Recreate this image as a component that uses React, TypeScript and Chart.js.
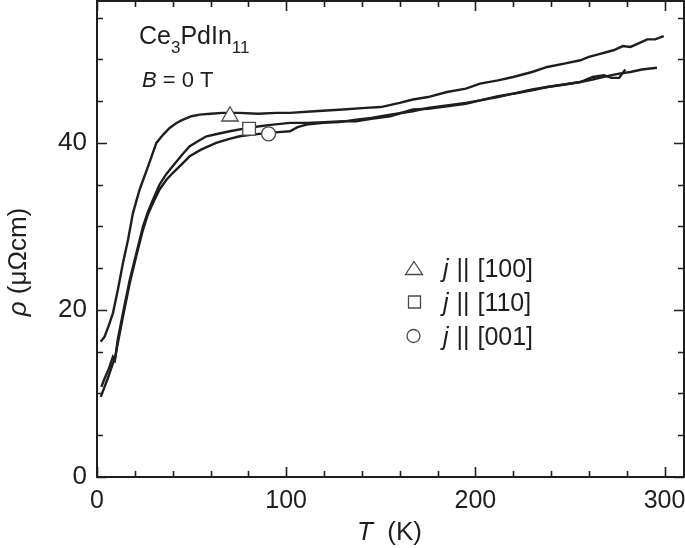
import { useEffect, useRef } from 'react';
import { Chart, registerables } from 'chart.js';

Chart.register(...registerables);

// ---- data ----
const T_100 = [1.9, 4, 6, 8.4, 11, 13.7, 16.4, 19, 22.5, 27, 31.4, 35, 38.4, 42, 45.5, 50, 54.3, 60, 66.5, 75, 85, 95, 102, 115, 130, 142, 150, 160, 167, 175, 185, 195, 202.5, 212, 220, 230, 238, 247, 255.5, 260, 265, 273, 278, 282, 286, 290.8, 295, 299.6];
const RHO_100 = [16.2, 16.8, 18.0, 19.6, 22.4, 25.6, 28.4, 31.6, 34.4, 37.2, 40.0, 41.0, 41.8, 42.4, 42.8, 43.2, 43.4, 43.5, 43.6, 43.6, 43.5, 43.6, 43.6, 43.8, 44.0, 44.2, 44.3, 44.8, 45.2, 45.5, 46.1, 46.5, 47.1, 47.5, 47.9, 48.5, 49.1, 49.5, 49.9, 50.3, 50.6, 51.1, 51.6, 51.5, 51.9, 52.4, 52.4, 52.8];

const T_110 = [2.3, 4, 6, 8.4, 9.5, 11, 13.7, 17.3, 20.8, 24.3, 27, 29.6, 33, 36.7, 40, 45, 49, 54, 57.9, 64, 70.2, 79.9, 86, 93, 102, 110.8, 120, 130, 137, 145, 155, 167, 175, 185, 195, 202.5, 212, 220, 230, 238, 247, 255.5, 262, 268, 272, 276, 279.3];
const RHO_110 = [10.8, 11.8, 12.8, 14.4, 14.0, 16.5, 19.6, 23.6, 26.8, 30.0, 31.8, 33.2, 35.0, 36.3, 37.2, 38.6, 39.6, 40.3, 40.8, 41.1, 41.4, 41.8, 42.0, 42.2, 42.4, 42.4, 42.5, 42.6, 42.6, 42.9, 43.2, 44.0, 44.1, 44.4, 44.7, 45.1, 45.5, 45.9, 46.3, 46.7, 47.0, 47.3, 47.9, 48.1, 47.8, 47.8, 48.8];

const T_001 = [2.0, 4, 6, 8.4, 9.5, 11, 13.7, 17.3, 20.8, 24.3, 27, 29.6, 33, 36.7, 40, 45, 49, 55, 63, 70, 75.5, 82, 90.5, 96, 102, 106, 110.8, 119.6, 128, 137, 145, 155, 167, 175, 185, 195, 202.5, 212, 220, 230, 238, 247, 255.5, 262, 269.6, 276, 282, 288, 296];
const RHO_001 = [9.6, 10.8, 12.0, 13.6, 14.2, 16.0, 19.2, 23.2, 26.5, 29.6, 31.5, 32.8, 34.4, 35.6, 36.4, 37.5, 38.4, 39.2, 40.0, 40.5, 40.8, 41.0, 41.2, 41.3, 41.4, 41.9, 42.2, 42.4, 42.5, 42.8, 43.0, 43.4, 43.8, 44.2, 44.5, 44.8, 45.1, 45.6, 45.9, 46.4, 46.7, 47.0, 47.3, 47.6, 48.0, 48.3, 48.5, 48.8, 49.0];

// symbol positions on the curves
const MARK_T = [70.3, 80.4, 90.7];
const MARK_RHO = [43.2, 41.7, 41.1];

const LEGEND_LABELS = ['[100]', '[110]', '[001]'];
const X_MAJOR = [0, 100, 200, 300];
const Y_MAJOR = [0, 20, 40];
const X_MINOR_STEP = 20;
const Y_MINOR_STEP = 5;
const X_MAX = 310.3;
const Y_MAX = 57;

const INK = '#1e1e1e';
const MARK_INK = '#4a4a4a';
const FAMILY = '"Liberation Sans", Arial, Helvetica, sans-serif';

const pts = (xs: number[], ys: number[]) => xs.map((x, i) => ({ x, y: ys[i] }));

function drawTriangle(ctx: CanvasRenderingContext2D, cx: number, cy: number, w: number, h: number) {
  ctx.beginPath();
  ctx.moveTo(cx, cy - h / 2);
  ctx.lineTo(cx + w / 2, cy + h / 2);
  ctx.lineTo(cx - w / 2, cy + h / 2);
  ctx.closePath();
  ctx.fill();
  ctx.stroke();
}

function drawRun(ctx: CanvasRenderingContext2D, parts: { t: string; f: string; dy?: number; dx?: number }[], x: number, y: number) {
  let cx = x;
  for (const p of parts) {
    ctx.font = p.f;
    cx += p.dx || 0;
    ctx.fillText(p.t, cx, y + (p.dy || 0));
    cx += ctx.measureText(p.t).width;
  }
  return cx;
}

const decorPlugin = {
  id: 'decor',
  afterDraw(chart: any) {
    const ctx: CanvasRenderingContext2D = chart.ctx;
    const a = chart.chartArea;
    const xs = chart.scales.x;
    const ys = chart.scales.y;
    ctx.save();
    // frame
    ctx.strokeStyle = INK;
    ctx.lineWidth = 2;
    ctx.strokeRect(a.left, a.top, a.right - a.left, a.bottom - a.top);
    // inward ticks
    ctx.lineWidth = 1.6;
    ctx.beginPath();
    for (let v = 0; v <= X_MAX; v += X_MINOR_STEP) {
      const px = Math.round(xs.getPixelForValue(v)) + 0.5;
      const len = X_MAJOR.includes(v) ? 10 : 6;
      ctx.moveTo(px, a.bottom);
      ctx.lineTo(px, a.bottom - len);
      ctx.moveTo(px, a.top);
      ctx.lineTo(px, a.top + len);
    }
    for (let v = 0; v <= Y_MAX; v += Y_MINOR_STEP) {
      const py = Math.round(ys.getPixelForValue(v)) + 0.5;
      const len = Y_MAJOR.includes(v) ? 10 : 6;
      ctx.moveTo(a.left, py);
      ctx.lineTo(a.left + len, py);
      ctx.moveTo(a.right, py);
      ctx.lineTo(a.right - len, py);
    }
    ctx.stroke();

    // annotations
    ctx.fillStyle = INK;
    ctx.textBaseline = 'alphabetic';
    ctx.textAlign = 'left';
    drawRun(ctx, [
      { t: 'Ce', f: `25px ${FAMILY}` },
      { t: '3', f: `17px ${FAMILY}`, dy: 9 },
      { t: 'PdIn', f: `25px ${FAMILY}` },
      { t: '11', f: `17px ${FAMILY}`, dy: 9 },
    ], 139, 44);
    drawRun(ctx, [
      { t: 'B', f: `italic 22px ${FAMILY}` },
      { t: ' = 0 T', f: `22px ${FAMILY}` },
    ], 142, 87);

    // axis titles
    drawRun(ctx, [
      { t: 'T', f: `italic 26px ${FAMILY}` },
      { t: '  (K)', f: `26px ${FAMILY}` },
    ], 357, 540);
    ctx.save();
    ctx.translate(26, 262);
    ctx.rotate(-Math.PI / 2);
    ctx.font = `italic 26px ${FAMILY}`;
    const w1 = ctx.measureText('\u03C1').width;
    ctx.font = `26px ${FAMILY}`;
    const w2 = ctx.measureText(' (\u03BC\u03A9cm)').width;
    drawRun(ctx, [
      { t: '\u03C1', f: `italic 26px ${FAMILY}` },
      { t: ' (\u03BC\u03A9cm)', f: `26px ${FAMILY}` },
    ], -(w1 + w2) / 2, 0);
    ctx.restore();

    // legend
    const rows = [268, 302, 336];
    ctx.strokeStyle = MARK_INK;
    ctx.fillStyle = '#ffffff';
    ctx.lineWidth = 1.3;
    drawTriangle(ctx, 414, rows[0], 17, 13);
    ctx.beginPath();
    ctx.rect(408.5, rows[1] - 6, 12, 12);
    ctx.fill();
    ctx.stroke();
    ctx.beginPath();
    ctx.arc(413.5, rows[2], 6.5, 0, Math.PI * 2);
    ctx.fill();
    ctx.stroke();
    ctx.fillStyle = INK;
    LEGEND_LABELS.forEach((lab, i) => {
      drawRun(ctx, [
        { t: 'j', f: `italic 25px ${FAMILY}` },
        { t: ' || ', f: `25px ${FAMILY}`, dx: 1 },
        { t: lab, f: `25px ${FAMILY}`, dx: 1 },
      ], 443, rows[i] + 9);
    });
    ctx.restore();
  },
};

export default function App() {
  const ref = useRef<HTMLCanvasElement>(null);
  useEffect(() => {
    if (!ref.current) return;
    const lineDs = (xs: number[], ys: number[]) => ({
      type: 'line' as const,
      data: pts(xs, ys),
      borderColor: INK,
      borderWidth: 2.4,
      pointRadius: 0,
      tension: 0,
      fill: false,
      order: 1,
    });
    const zeroPad = (s: any) => {
      s.paddingTop = 0;
      s.paddingBottom = 0;
      s.paddingLeft = 0;
      s.paddingRight = 0;
    };
    const chart = new Chart(ref.current, {
      type: 'scatter',
      data: {
        datasets: [
          {
            type: 'scatter',
            data: [{ x: MARK_T[0], y: MARK_RHO[0] }],
            pointStyle: 'triangle',
            pointRadius: 9.5,
            pointBackgroundColor: '#ffffff',
            pointBorderColor: MARK_INK,
            pointBorderWidth: 1.3,
            order: 0,
          },
          {
            type: 'scatter',
            data: [{ x: MARK_T[1], y: MARK_RHO[1] }],
            pointStyle: 'rect',
            pointRadius: 9,
            pointBackgroundColor: '#ffffff',
            pointBorderColor: MARK_INK,
            pointBorderWidth: 1.3,
            order: 0,
          },
          {
            type: 'scatter',
            data: [{ x: MARK_T[2], y: MARK_RHO[2] }],
            pointStyle: 'circle',
            pointRadius: 7,
            pointBackgroundColor: '#ffffff',
            pointBorderColor: MARK_INK,
            pointBorderWidth: 1.3,
            order: 0,
          },
          lineDs(T_100, RHO_100) as any,
          lineDs(T_110, RHO_110) as any,
          lineDs(T_001, RHO_001) as any,
        ],
      },
      options: {
        animation: false,
        responsive: false,
        devicePixelRatio: 1,
        layout: { autoPadding: false, padding: { top: 1, right: 1, left: 0, bottom: 0 } },
        plugins: { legend: { display: false }, tooltip: { enabled: false } },
        events: [],
        scales: {
          x: {
            type: 'linear',
            min: 0,
            max: X_MAX,
            grid: { display: false, drawTicks: false },
            border: { display: false },
            ticks: { color: INK, font: { size: 25, family: FAMILY }, padding: 9, maxRotation: 0, autoSkip: false },
            afterBuildTicks: (s: any) => { s.ticks = X_MAJOR.map((v) => ({ value: v })); },
            afterFit: (s: any) => { s.height = 71; zeroPad(s); },
          },
          y: {
            type: 'linear',
            min: 0,
            max: Y_MAX,
            grid: { display: false, drawTicks: false },
            border: { display: false },
            ticks: { color: INK, font: { size: 26, family: FAMILY }, padding: 10, autoSkip: false },
            afterBuildTicks: (s: any) => { s.ticks = Y_MAJOR.map((v) => ({ value: v })); },
            afterFit: (s: any) => { s.width = 97; zeroPad(s); },
          },
        },
      },
      plugins: [decorPlugin],
    });
    return () => chart.destroy();
  }, []);
  return (
    <div style={{ position: 'absolute', left: 0, top: 0, width: 685, height: 548, background: '#fff' }}>
      <canvas ref={ref} width={685} height={548} style={{ width: 685, height: 548, display: 'block' }} />
    </div>
  );
}
